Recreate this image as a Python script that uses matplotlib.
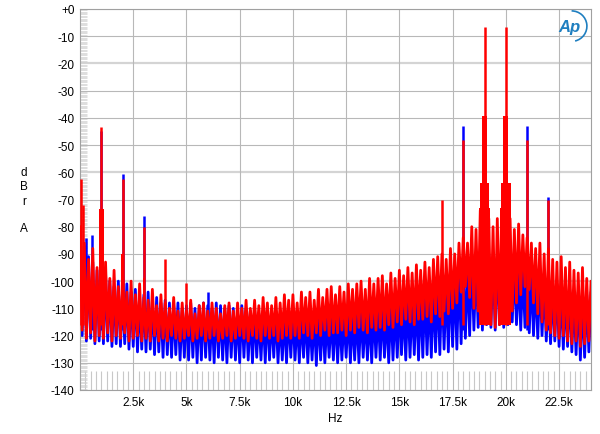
import numpy as np
import matplotlib.pyplot as plt
from matplotlib.patches import Arc

plt.rcParams['font.family'] = ['Liberation Sans', 'DejaVu Sans']

## données (dB, une valeur tous les 200 Hz de 0 à 24 kHz)
freq = np.arange(0, 24001, 200)

red_top = [-80, -86, -92, -88, -95, -97, -93, -99, -96, -102,
           -98, -104, -100, -105, -101, -106, -107, -103, -109, -105,
           -108, -110, -106, -111, -108, -111, -107, -112, -109, -108,
           -111, -108, -110, -112, -109, -108, -111, -108, -110, -107,
           -110, -107, -109, -106, -108, -109, -106, -108, -105, -107,
           -105, -108, -104, -106, -104, -107, -103, -106, -103, -102,
           -105, -102, -104, -101, -103, -101, -100, -103, -99, -101,
           -99, -98, -101, -97, -99, -96, -98, -95, -97, -94,
           -96, -93, -95, -92, -91, -90, -92, -88, -90, -86,
           -84, -86, -80, -81, -74, -75, -77, -80, -77, -76,
           -75, -77, -81, -79, -83, -84, -86, -88, -86, -90,
           -88, -92, -93, -91, -95, -93, -96, -97, -95, -99,
           -100]
red_bot = [-118, -121, -119, -122, -120, -121, -119, -122, -120, -121,
           -119, -122, -121, -120, -122, -121, -122, -120, -122, -121,
           -122, -120, -121, -122, -121, -120, -122, -121, -120, -122,
           -121, -120, -122, -121, -120, -122, -121, -120, -121, -122,
           -120, -121, -122, -120, -121, -120, -122, -121, -120, -121,
           -120, -121, -119, -120, -121, -119, -120, -118, -120, -119,
           -119, -118, -120, -118, -119, -117, -118, -119, -117, -118,
           -117, -118, -116, -117, -115, -116, -114, -115, -116, -114,
           -114, -113, -115, -112, -113, -111, -112, -110, -108, -104,
           -102, -106, -110, -111, -113, -114, -116, -117, -116, -114,
           -113, -111, -108, -105, -102, -103, -108, -112, -115, -118,
           -119, -120, -121, -120, -122, -123, -122, -124, -123, -122,
           -120]
blue_top = [-80, -87, -91, -93, -96, -98, -97, -100, -102, -100,
            -103, -101, -104, -103, -106, -105, -104, -107, -106, -108,
            -107, -108, -109, -108, -110, -109, -108, -110, -109, -108,
            -109, -110, -108, -109, -110, -109, -110, -111, -109, -110,
            -111, -110, -112, -111, -110, -112, -111, -113, -112, -111,
            -112, -113, -112, -111, -113, -112, -111, -112, -113, -112,
            -111, -112, -113, -111, -112, -111, -110, -112, -111, -110,
            -110, -109, -111, -108, -109, -107, -108, -106, -107, -105,
            -104, -103, -104, -102, -101, -99, -100, -97, -98, -95,
            -96, -94, -92, -93, -90, -88, -90, -92, -91, -89,
            -88, -90, -94, -97, -96, -95, -97, -99, -98, -100,
            -101, -102, -101, -103, -104, -103, -105, -104, -106, -105,
            -104]
blue_bot = [-120, -122, -121, -123, -122, -123, -122, -124, -123, -124,
            -123, -125, -124, -126, -125, -126, -125, -127, -126, -128,
            -127, -128, -127, -129, -128, -129, -128, -130, -129, -128,
            -129, -130, -128, -129, -130, -128, -129, -130, -128, -129,
            -130, -128, -129, -130, -129, -128, -130, -129, -130, -128,
            -129, -130, -128, -130, -129, -131, -129, -130, -128, -129,
            -130, -129, -128, -130, -129, -130, -128, -129, -130, -128,
            -129, -128, -130, -129, -128, -127, -129, -128, -127, -129,
            -128, -127, -128, -126, -127, -125, -126, -124, -125, -123,
            -121, -120, -118, -117, -118, -116, -117, -118, -116, -117,
            -116, -115, -116, -118, -117, -119, -120, -121, -120, -122,
            -123, -122, -124, -125, -124, -126, -127, -129, -128, -126,
            -125]

# raies (Hz, dB)
red_tone_f = [50, 130, 1000, 2000, 3000, 4000, 5000, 17000, 18000, 19000, 20000, 21000, 22000]
red_tone_db = [-62.5, -72, -43.5, -62.5, -80, -92, -100.5, -70, -48, -6.5, -6.5, -48, -70]
blue_tone_f = [300, 560, 1000, 2000, 3000, 6000, 18000, 21000, 22000]
blue_tone_db = [-84, -83, -45, -60.5, -76, -104, -43, -43, -69]

# bandes latérales autour des raies (centre Hz, largeur Hz, sommet dB)
red_skirt_f = [1000, 2000, 3000, 19000, 20000, 19000, 20000, 19000, 20000]
red_skirt_w = [240, 180, 120, 520, 520, 440, 440, 240, 240]
red_skirt_db = [-73.5, -90, -99, -73, -73, -64, -64, -39.5, -39.5]

RED = '#ff0000'
BLUE = '#0000ff'


def zigzag(f, top, bot):
    """alterne sommet / creux pour imiter le bruit du spectre"""
    x = np.empty(2 * len(f))
    y = np.empty(2 * len(f))
    x[0::2] = f
    x[1::2] = np.asarray(f) + 100
    y[0::2] = top
    y[1::2] = bot
    return x, y


fig = plt.figure(figsize=(6.0, 4.35), dpi=100)
ax = fig.add_axes([80 / 600, 1 - 391 / 435, 511 / 600, 381 / 435])

# grille
for v in range(0, -141, -10):
    lw = 1.6 if v in (-20, -60, -100) else 0.8
    col = '#d4d4d4' if v in (-20, -60, -100) else '#b8b8b8'
    ax.axhline(v, color=col, lw=lw, zorder=0)
for v in range(2500, 24000, 2500):
    ax.axvline(v, color='#b8b8b8', lw=0.8, zorder=0)

# trace bleue
x, y = zigzag(freq, blue_top, blue_bot)
ax.plot(x, y, color=BLUE, lw=2.0, zorder=2)
ax.vlines(blue_tone_f, -118, blue_tone_db, color=BLUE, lw=1.8, zorder=2)

# trace rouge
x, y = zigzag(freq, red_top, red_bot)
ax.plot(x, y, color=RED, lw=2.0, zorder=3)
ax.bar(red_skirt_f, np.array(red_skirt_db) + 116, width=red_skirt_w, bottom=-116,
       color=RED, lw=0, zorder=3)
ax.vlines(red_tone_f, -116, red_tone_db, color=RED, lw=1.8, zorder=3)

ax.set_xlim(0, 24000)
ax.set_ylim(-140, 0)
ax.set_xticks(range(2500, 24000, 2500))
ax.set_xticklabels(['2.5k', '5k', '7.5k', '10k', '12.5k', '15k', '17.5k', '20k', '22.5k'])
ax.set_yticks(range(0, -141, -10))
ax.set_yticklabels(['+0'] + [str(v) for v in range(-10, -141, -10)])
ax.set_xticks(np.arange(0, 24001, 250), minor=True)
ax.set_yticks(np.arange(-140, 0.1, 0.5), minor=True)
ax.tick_params(which='major', length=0, labelsize=8.5, pad=4)
ax.tick_params(axis='x', which='minor', direction='in', length=14, color='#c8c8c8', width=0.8)
ax.tick_params(axis='y', which='minor', direction='in', length=5, color='#d0d0d0', width=0.5)
for s in ax.spines.values():
    s.set_color('#a0a0a0')
    s.set_linewidth(0.8)

ax.set_xlabel('Hz', fontsize=8.5, labelpad=3)
for lettre, ypx in zip(['d', 'B', 'r', 'A'], [173, 187, 202, 229]):
    fig.text(24 / 600, 1 - ypx / 435, lettre, fontsize=8.5, ha='center', va='center')

# logo AP
ax.text(0.958, 0.955, 'Ap', transform=ax.transAxes, fontsize=12, style='italic',
        color='#1f7fc0', ha='center', va='center', fontweight='bold', zorder=5)
ax.add_patch(Arc((0.962, 0.955), 0.06, 0.08, theta1=-80, theta2=90,
                 transform=ax.transAxes, color='#1f7fc0', lw=1.2, zorder=5))

plt.savefig('out.png', dpi=100)
